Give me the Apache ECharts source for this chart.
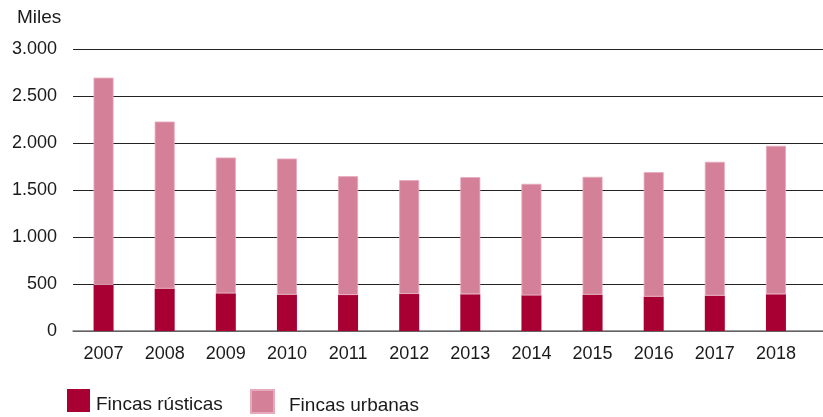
<!DOCTYPE html>
<html>
<head>
<meta charset="utf-8">
<script src="https://cdn.jsdelivr.net/npm/echarts@6/dist/echarts.min.js"></script>
<style>
  html, body { margin: 0; padding: 0; background: #fff; }
</style>
</head>
<body>
<div id="mainChart" style="width: 823px; height: 417px"></div>
<script>
var years = ["2007", "2008", "2009", "2010", "2011", "2012", "2013", "2014", "2015", "2016", "2017", "2018"];
var rusticas = [490, 451, 401, 387, 383, 394, 391, 380, 387, 366, 376, 391];
var urbanas = [2205, 1777, 1445, 1448, 1264, 1211, 1246, 1186, 1253, 1324, 1424, 1579];
var yTicks = [0, 500, 1000, 1500, 2000, 2500, 3000];

var font = "'Liberation Sans', Arial, sans-serif";
var textColor = "#1a1a1a";

function miles(v) {
  return String(v).replace(/\B(?=(\d{3})+(?!\d))/g, ".");
}

// legend label pushed down so it sits on the square's baseline
function legendText(leftPad) {
  return {
    fontFamily: font,
    fontSize: 19,
    color: textColor,
    rich: {
      t: { fontFamily: font, fontSize: 19, color: textColor, padding: [9, 0, 0, leftPad] },
    },
  };
}

var chart = echarts.init(document.getElementById("mainChart"));
var option = {
  animation: false,
  title: {
    text: "Miles",
    left: 17,
    top: 8,
    padding: 0,
    textStyle: { fontFamily: font, fontSize: 19, fontWeight: "normal", color: textColor },
  },
  legend: [
    {
      data: ["Fincas rústicas"],
      left: 67,
      top: 389,
      padding: 0,
      itemWidth: 23,
      itemHeight: 23,
      icon: "rect",
      formatter: "{t|{name}}",
      textStyle: legendText(1),
    },
    {
      data: ["Fincas urbanas"],
      left: 250,
      top: 389,
      padding: 0,
      itemWidth: 23,
      itemHeight: 23,
      icon: "rect",
      formatter: "{t|{name}}",
      textStyle: legendText(10),
    },
  ],
  grid: [
    // gridlines + baseline run to the right edge
    { left: 73, right: 0, top: 49, bottom: 86 },
    // bars
    { left: 73, right: 16.5, top: 49, bottom: 86 },
  ],
  xAxis: [
    {
      gridIndex: 0,
      type: "category",
      data: [""],
      axisLine: { lineStyle: { color: "#7a7a7a", width: 1.5 } },
      axisTick: { show: false },
      axisLabel: { show: false },
    },
    {
      gridIndex: 1,
      type: "category",
      data: years,
      axisLine: { show: false },
      axisTick: { show: false },
      axisLabel: { margin: 14, fontFamily: font, fontSize: 18, color: textColor },
    },
  ],
  yAxis: [
    {
      gridIndex: 0,
      type: "value",
      min: yTicks[0],
      max: yTicks[yTicks.length - 1],
      interval: 500,
      axisLine: { show: false },
      axisTick: { show: false },
      splitLine: { lineStyle: { color: "#222", width: 1 } },
      axisLabel: {
        margin: 16,
        fontFamily: font,
        fontSize: 18,
        color: textColor,
        formatter: miles,
      },
    },
    {
      gridIndex: 1,
      type: "value",
      min: 0,
      max: 3000,
      show: false,
      splitLine: { show: false },
    },
  ],
  series: [
    {
      name: "Fincas rústicas",
      type: "bar",
      stack: "total",
      xAxisIndex: 1,
      yAxisIndex: 1,
      barWidth: 20,
      itemStyle: { color: "#a80032" },
      data: rusticas,
    },
    {
      name: "Fincas urbanas",
      type: "bar",
      stack: "total",
      xAxisIndex: 1,
      yAxisIndex: 1,
      barWidth: 20,
      itemStyle: { color: "#d58099", borderColor: "#e7aabb", borderWidth: 0.8 },
      data: urbanas,
    },
  ],
};
chart.setOption(option);
</script>
</body>
</html>
